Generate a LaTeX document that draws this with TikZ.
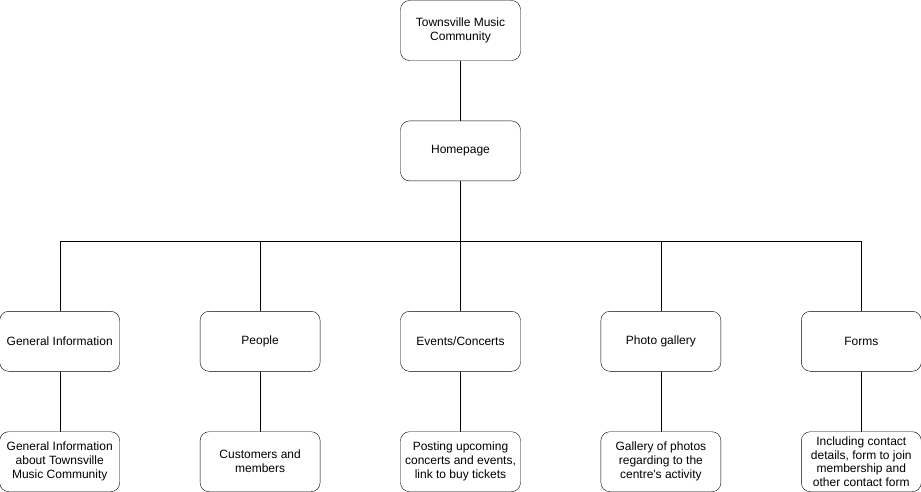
\documentclass[tikz,border=0pt]{standalone}
\usepackage{fontspec}
\setmainfont{Liberation Sans}
\usetikzlibrary{
  positioning,
  calc
}

\begin{document}
\begin{tikzpicture}[x=1pt, y=-1pt, node distance = 60pt and 80pt,
    box/.style = {draw, rectangle, rounded corners=9pt, minimum width=120pt,
      minimum height=60pt, inner sep=1pt, align=center,
      font=\fontsize{12}{14}\selectfont}]
    \useasboundingbox (0,0) rectangle (921,491);

    \node[box] (top) at (460.5,30.5) {Townsville Music\\Community};
    \node[box,below = of top] (home) {Homepage};

    % second row
    \node[box,below = 130pt of home] (events) {Events/Concerts};
    \node[box,left = of events] (people) {People};
    \node[box,left = of people] (general) {General Information};
    \node[box,right = of events] (photo) {Photo gallery};
    \node[box,right = of photo] (forms) {Forms};

    % third row
    \node[box,below = of general] (general2) {General Information\\about Townsville\\Music Community};
    \node[box,below = of people] (people2) {Customers and\\members};
    \node[box,below = of events] (events2) {Posting upcoming\\concerts and events,\\link to buy tickets};
    \node[box,below = of photo] (photo2) {Gallery of photos\\regarding to the\\centre\textquotesingle s activity};
    \node[box,below = of forms,font=\fontsize{12}{13.5}\selectfont] (forms2) {Including contact\\details, form to join\\membership and\\other contact form};

    \coordinate (bus) at ($(home.south)+(0,60)$);
    \draw (top) -- (home);
    \draw (home) -- (bus);
    \draw (general.north) |- (bus) -| (forms.north);
    \foreach \n in {people,events,photo}
      \draw (\n.north) -- (\n.north |- bus);
    \foreach \n in {general,people,events,photo,forms}
      \draw (\n) -- (\n2);
  \end{tikzpicture}
\end{document}
